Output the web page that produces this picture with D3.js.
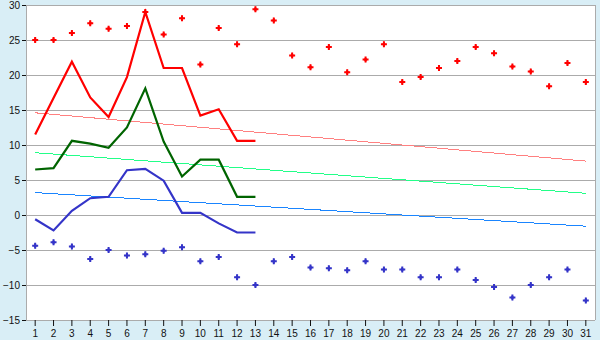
<!DOCTYPE html>
<html>
<head>
<meta charset="utf-8">
<script src="https://cdn.jsdelivr.net/npm/d3@7"></script>
<style>
  body { margin: 0; background: #d9eef6; }
  svg { display: block; }
  text { font-family: "Liberation Sans", Arial, sans-serif; font-size: 10px; fill: #111; }
</style>
</head>
<body>
<div id="chart"></div>
<script>
// days of the month
var days = d3.range(1, 32);

// record highs / lows (points)
var recordMax = [25.0, 25.0, 26.0, 27.4, 26.6, 27.0, 29.0, 25.8, 28.1, 21.5,
                 26.7, 24.4, 29.4, 27.8, 22.8, 21.1, 24.0, 20.4, 22.2, 24.4,
                 19.0, 19.7, 21.0, 22.0, 24.0, 23.1, 21.2, 20.5, 18.4, 21.7, 19.0];
var recordMin = [-4.4, -3.9, -4.5, -6.3, -5.0, -5.8, -5.6, -5.1, -4.6, -6.6,
                 -6.0, -8.9, -10.0, -6.6, -6.0, -7.5, -7.6, -7.9, -6.6, -7.8,
                 -7.8, -8.9, -8.9, -7.8, -9.3, -10.3, -11.8, -10.0, -8.9, -7.8, -12.2];

// this month so far (days 1..13)
var curMax  = [11.5, 16.7, 21.9, 16.8, 14.0, 19.7, 29.0, 21.0, 21.0, 14.2, 15.1, 10.6, 10.6];
var curMean = [6.5, 6.7, 10.6, 10.2, 9.6, 12.5, 18.1, 10.5, 5.5, 7.9, 7.9, 2.6, 2.6];
var curMin  = [-0.6, -2.2, 0.6, 2.4, 2.6, 6.4, 6.6, 4.9, 0.3, 0.3, -1.2, -2.5, -2.5];

// normal values at day 1 and day 31
var normMax  = [14.6, 7.7];
var normMean = [8.9, 3.1];
var normMin  = [3.2, -1.6];

var yTicks = [-15, -10, -5, 0, 5, 10, 15, 20, 25, 30];

var width = 600, height = 340;
var mLeft = 26, mRight = 595, mTop = 5, mBottom = 320;

var svg = d3.select("#chart").append("svg")
    .attr("width", width)
    .attr("height", height);

var x = d3.scaleBand().domain(days).range([mLeft, mRight]);
var y = d3.scaleLinear().domain([-15, 30]).range([mBottom, mTop]);
var cx = function(d) { return x(d) + x.bandwidth() / 2; };

// plot area
svg.append("rect")
    .attr("x", mLeft).attr("y", mTop)
    .attr("width", mRight - mLeft).attr("height", mBottom - mTop)
    .attr("fill", "#fff");

// grid
svg.append("g").selectAll("line").data(yTicks).enter().append("line")
    .attr("x1", mLeft).attr("x2", mRight)
    .attr("y1", function(d) { return Math.round(y(d)) + 0.5; })
    .attr("y2", function(d) { return Math.round(y(d)) + 0.5; })
    .attr("stroke", "#ababab");

// border (left + right)
svg.append("line").attr("x1", mLeft + 0.5).attr("x2", mLeft + 0.5)
    .attr("y1", mTop).attr("y2", mBottom).attr("stroke", "#ababab");
svg.append("line").attr("x1", mRight + 0.5).attr("x2", mRight + 0.5)
    .attr("y1", mTop).attr("y2", mBottom).attr("stroke", "#ababab");

// y axis
var yAxis = d3.axisLeft(y).tickValues(yTicks).tickSize(4).tickPadding(2);
var gy = svg.append("g").attr("transform", "translate(" + mLeft + ",0)").call(yAxis);
gy.select(".domain").remove();
gy.selectAll("line").attr("stroke", "#111");
gy.selectAll("text").style("font-size", "10px").attr("fill", "#111");

// x axis
var xAxis = d3.axisBottom(x).tickSize(6).tickPadding(4);
var gx = svg.append("g").attr("transform", "translate(0," + mBottom + ")").call(xAxis);
gx.select(".domain").remove();
gx.selectAll("line").attr("stroke", "#111");
gx.selectAll("text").style("font-size", "10px").attr("fill", "#111");

// normal (trend) lines
var trendLine = d3.line()
    .x(function(d, i) { return cx(i == 0 ? days[0] : days[days.length - 1]); })
    .y(function(d) { return y(d); });

[[normMax, "#ff8080"], [normMean, "#22ff88"], [normMin, "#1a85ff"]].forEach(function(s) {
    svg.append("path").datum(s[0])
        .attr("d", trendLine)
        .attr("fill", "none")
        .attr("stroke", s[1])
        .attr("stroke-width", 1)
        .attr("shape-rendering", "crispEdges");
});

// current month lines
var line = d3.line()
    .x(function(d, i) { return cx(days[i]); })
    .y(function(d) { return y(d); });

[[curMax, "#ff0000"], [curMean, "#006400"], [curMin, "#3434c8"]].forEach(function(s) {
    svg.append("path").datum(s[0])
        .attr("d", line)
        .attr("fill", "none")
        .attr("stroke", s[1])
        .attr("stroke-width", 2.2)
        .attr("stroke-linejoin", "miter");
});

// record markers: a small cross with a solid diamond core
var cross = d3.symbol().type(d3.symbolCross).size(20);
var core = d3.symbol().type(d3.symbolDiamond).size(10);

[[recordMax, "#ff0000"], [recordMin, "#3434c8"]].forEach(function(s) {
    var g = svg.append("g").selectAll("g").data(s[0]).enter().append("g")
        .attr("transform", function(d, i) {
            return "translate(" + cx(days[i]) + "," + y(d) + ")";
        });
    g.append("path").attr("d", cross).attr("fill", s[1]);
    g.append("path").attr("d", core).attr("fill", s[1]);
});
</script>
</body>
</html>
